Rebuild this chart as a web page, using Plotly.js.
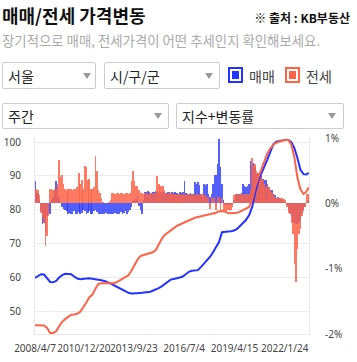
<!DOCTYPE html>
<html><head><meta charset="utf-8">
<script src="https://cdn.plot.ly/plotly-3.0.1.min.js"></script>
<style>
body{margin:0;width:357px;height:362px;overflow:hidden;background:#fff;font-family:"Noto Sans CJK KR","Noto Sans",sans-serif;position:relative}
.abs{position:absolute;white-space:nowrap;line-height:1}
#title{left:2px;top:6px;font-size:18px;font-weight:bold;color:#111}
#src{right:7px;top:12px;font-size:12px;font-weight:bold;color:#111}
#sub{left:2px;top:34px;font-size:13.4px;color:#aaa}
.sel{position:absolute;border:1px solid #ccc;border-radius:2px;box-sizing:border-box;font-size:14px;color:#222;background:#fff}
.sel span{position:absolute;left:5px;top:50%;transform:translateY(-50%);line-height:1;white-space:nowrap}
.sel i{position:absolute;width:0;height:0;border-left:4px solid transparent;border-right:4px solid transparent;border-top:6px solid #999;top:50%;margin-top:-3px}
.sq{position:absolute;width:15px;height:16px;box-sizing:border-box;box-shadow:inset 0 0 0 2px #fff}
.lg{position:absolute;font-size:14px;color:#444;line-height:1;white-space:nowrap}
#chart{position:absolute;left:0;top:130px;width:357px;height:232px}
</style></head>
<body>
<div id="title" class="abs">매매/전세 가격변동</div>
<div id="src" class="abs">※ 출처 : KB부동산</div>
<div id="sub" class="abs">장기적으로 매매, 전세가격이 어떤 추세인지 확인해보세요.</div>

<div class="sel" style="left:2px;top:62px;width:94px;height:27px"><span>서울</span><i style="left:80px"></i></div>
<div class="sel" style="left:104px;top:62px;width:116px;height:27px"><span>시/구/군</span><i style="left:100px"></i></div>
<div class="sq" style="left:228px;top:67px;background:#2233ff;border:2px solid #2233ff"></div>
<div class="lg" style="left:249px;top:69px">매매</div>
<div class="sq" style="left:285px;top:67px;background:#ff6347;border:2px solid #ff6347"></div>
<div class="lg" style="left:306px;top:69px">전세</div>

<div class="sel" style="left:2px;top:103px;width:167px;height:26px"><span>주간</span><i style="left:151px"></i></div>
<div class="sel" style="left:176px;top:103px;width:168px;height:26px"><span>지수+변동률</span><i style="left:151px"></i></div>

<div id="chart"></div>
<script>
// ---- data ----
var tickDates = ['2008-04-07','2010-12-20','2013-09-23','2016-07-04','2019-04-15','2022-01-24'];
var tickLabels = ['2008/4/7','2010/12/20','2013/9/23','2016/7/4','2019/4/15','2022/1/24'];
var xRange = ['2008-04-07','2023-05-29'];
var idxTicks = [50,60,70,80,90,100];
var pctTicks = [-2,-1,0,1];
var pctLabels = ['-2%','-1%','0%','1%'];

// monthly change rate (%), starting 2008-04
var saleChange = [0.34,0.18,0.16,0.05,-0.12,-0.32,-0.3,-0.45,-0.2,-0.15,
-0.17,0.05,0.1,0.2,0.34,0.25,0.1,0.02,-0.05,-0.08,
-0.1,-0.12,-0.17,-0.15,-0.17,-0.16,-0.12,-0.17,-0.17,-0.14,
-0.17,-0.15,-0.1,-0.12,-0.17,-0.15,-0.12,-0.17,-0.16,-0.12,
-0.1,-0.14,-0.17,-0.17,-0.16,-0.17,-0.17,-0.15,-0.17,-0.17,
-0.16,-0.17,-0.17,-0.15,-0.17,-0.17,-0.16,-0.14,-0.17,-0.15,
-0.12,-0.17,-0.14,-0.1,-0.05,0.04,0.05,0.06,0.12,-0.04,
-0.1,-0.17,0.05,0.18,0.17,0.19,0.18,0.16,0.18,0.17,
0.19,0.18,0.16,0.18,0.19,0.17,0.18,0.16,0.17,0.18,
0.16,0.17,0.16,0.18,0.16,0.15,0.17,0.16,0.18,0.34,
0.16,0.15,0.14,0.16,0.15,0.14,0.32,0.3,0.32,0.28,
0.15,0.1,0.3,0.28,0.3,0.15,0.1,0.15,0.3,0.44,
0.44,0.6,0.98,0.55,0.3,0.05,-0.02,-0.03,-0.03,-0.02,
-0.02,-0.01,0.05,0.14,0.14,0.15,0.14,0.16,0.3,0.27,
0.25,0.27,0.3,0.65,0.6,0.62,0.55,0.45,0.47,0.45,
0.42,0.38,0.35,0.35,0.3,0.25,0.2,0.2,0.15,0.12,
0.08,0.1,0.08,0.06,0.05,0.03,0.02,-0.03,-0.1,-0.15,
-0.2,-0.28,-0.3,-0.32,-0.32,-0.3,-0.25,-0.15,-0.1,-0.05,
0.02,0.05];
var rentChange = [0.22,0.22,0.2,0.12,-0.15,-0.22,-0.3,-0.65,-0.5,-0.2,
0.22,0.22,0.21,0.22,0.22,0.3,0.66,0.4,0.44,0.3,
0.22,0.21,0.22,0.22,0.22,0.21,0.22,0.22,0.25,0.47,
0.3,0.35,0.22,0.57,0.55,0.35,0.38,0.22,0.22,0.25,
0.72,0.5,0.2,0.16,0.08,0.02,0,0,0,0.02,
0.05,0.16,0.16,0.15,0.16,0.16,0.14,0.16,0.16,0.15,
0.16,0.16,0.14,0.16,0.34,0.5,0.34,0.27,0.27,0.2,
0.16,0.16,0.15,0.16,0.16,0.14,0.16,0.16,0.15,0.16,
0.16,0.42,0.3,0.27,0.27,0.27,0.2,0.16,0.15,0.16,
0.16,0.15,0.14,0.14,0.13,0.14,0.14,0.13,0.14,0.14,
0.13,0.14,0.14,0.13,0.14,0.14,0.13,0.14,0.14,0.13,
0.14,0.14,0.13,0.12,0.1,0.1,-0.08,0.1,0.08,0.1,
-0.1,0.1,0.1,-0.1,0.08,-0.12,-0.12,-0.12,-0.1,-0.12,
-0.1,-0.05,0.12,0.14,0.14,0.13,0.14,0.14,0.14,0.13,
0.14,0.14,0.14,0.2,0.7,0.57,0.6,0.5,0.47,0.45,
0.4,0.35,0.3,0.25,0.3,0.25,0.2,0.18,0.12,0.1,
0.08,0.08,0.08,0.08,0.08,0.06,0.05,-0.05,-0.15,-0.17,
-0.3,-0.47,-0.93,-1.21,-0.7,-0.47,-0.4,-0.2,-0.12,-0.05,
0.14,0.14];

// index values every 2 months from 2008-04, last point 2023-05-22
var saleIndex = [59.8,60.4,60.9,60.8,59.6,58.6,58.5,58.9,59.9,60.6,
61.0,61.0,60.9,60.2,59.6,59.4,59.4,59.6,59.7,59.6,
59.4,59.3,59.1,58.9,58.6,58.2,57.7,57.2,56.7,56.2,
55.8,55.4,55.2,55.2,55.2,55.3,55.5,55.6,55.6,56.0,
56.3,56.8,57.3,57.9,58.6,59.3,59.5,59.6,59.9,60.2,
60.8,61.6,61.9,62.0,62.1,63.0,64.0,65.2,66.0,67.4,
68.9,70.4,73.3,73.5,73.5,73.6,73.8,74.3,75.2,75.8,
77.0,78.4,80.8,85.0,88.5,90.6,92.5,94.8,97.0,99.3,
100.1,100.4,100.5,100.6,100.6,100.0,98.2,95.3,91.8,90.5,
90.4,90.9];
var rentIndex = [45.8,45.8,45.8,45.7,45.0,43.5,43.5,44.0,45.5,46.8,
47.6,48.4,48.9,49.0,49.2,49.8,51.0,52.5,54.0,54.8,
56.5,58.0,58.2,58.2,58.2,58.2,58.2,58.5,59.0,59.6,
60.1,60.6,62.0,63.8,65.2,66.3,66.6,66.8,67.0,67.4,
68.0,69.8,71.3,72.5,73.2,74.0,74.7,75.2,75.6,76.0,
76.4,76.9,77.3,77.6,77.8,78.0,78.1,78.4,78.6,78.8,
79.1,79.5,79.6,79.4,79.0,78.9,78.9,79.1,79.4,79.8,
80.3,80.8,83.0,86.8,89.5,92.0,94.5,96.6,98.1,99.2,
99.8,100.1,100.4,100.7,100.6,99.2,95.5,89.5,86.0,84.6,
85.3,86.6];

function ymd(d){return d.toISOString().slice(0,10);}
var barDates = saleChange.map(function(_,i){return ymd(new Date(Date.UTC(2008,3+i,7)));});
var lineDates = saleIndex.map(function(_,i){
  return i===saleIndex.length-1 ? '2023-05-22' : ymd(new Date(Date.UTC(2008,3+2*i,7)));
});

var BLUE='#2233ff', RED='#ff6347';
var BARW = 32*86400000;
var traces = [
  {type:'bar',x:barDates,y:saleChange,yaxis:'y',width:BARW,marker:{color:'rgba(34,51,255,0.78)',line:{width:0}},hoverinfo:'skip'},
  {type:'bar',x:barDates,y:rentChange,yaxis:'y',width:BARW,marker:{color:'rgba(255,99,71,0.85)',line:{width:0}},hoverinfo:'skip'},
  {type:'scatter',mode:'lines',x:lineDates,y:saleIndex,yaxis:'y2',line:{color:BLUE,width:2},hoverinfo:'skip'},
  {type:'scatter',mode:'lines',x:lineDates,y:rentIndex,yaxis:'y2',line:{color:RED,width:2},hoverinfo:'skip'}
];
var tf = {family:'"Noto Sans", sans-serif',size:10,color:'#444'};
var layout = {
  width:357,height:232,
  margin:{l:35,r:48,t:8,b:28},
  paper_bgcolor:'#fff',plot_bgcolor:'#fff',
  showlegend:false,barmode:'overlay',bargap:0,
  xaxis:{type:'date',range:xRange,tickmode:'array',tickvals:tickDates,ticktext:tickLabels,tickangle:0,
    showgrid:false,zeroline:false,showline:true,linecolor:'#e6e6e6',linewidth:1,ticks:'',
    tickfont:tf,ticklabelstandoff:5},
  yaxis:{side:'right',range:[-2,1],tickmode:'array',tickvals:pctTicks,ticktext:pctLabels,
    showgrid:false,zeroline:false,showline:true,linecolor:'#e6e6e6',linewidth:1,ticks:'',
    tickfont:tf,ticklabelstandoff:13},
  yaxis2:{overlaying:'y',side:'left',range:[43.2,101.2],tickmode:'array',tickvals:idxTicks,
    showgrid:true,gridcolor:'#ececec',gridwidth:1,zeroline:false,showline:true,linecolor:'#e6e6e6',linewidth:1,ticks:'',
    tickfont:tf,ticklabelstandoff:11}
};
Plotly.newPlot('chart',traces,layout,{staticPlot:true,displayModeBar:false});
</script>
</body></html>
